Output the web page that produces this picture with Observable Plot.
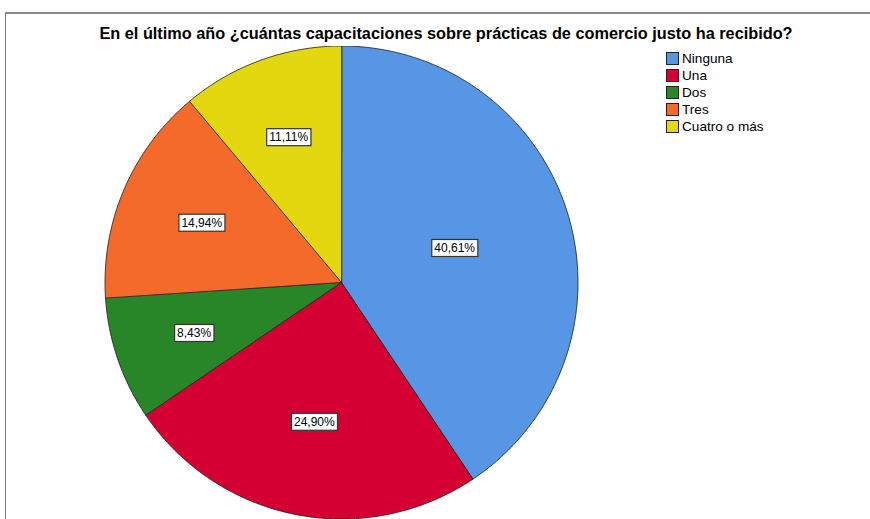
<!DOCTYPE html>
<html>
<head>
<meta charset="utf-8">
<script src="https://cdn.jsdelivr.net/npm/d3@7"></script>
<script src="https://cdn.jsdelivr.net/npm/@observablehq/plot@0.6"></script>
<style>
  html, body { margin: 0; padding: 0; background: #fff; overflow: hidden; }
  #wrap { position: relative; width: 870px; height: 519px; overflow: hidden; font-family: "Liberation Sans", Arial, sans-serif; }
  #frame { position: absolute; left: 5px; top: 12px; width: 900px; height: 600px; border-left: 1px solid #7a7a7a; border-top: 2px solid #8a8a8a; box-sizing: border-box; }
  #title { position: relative; height: 46px; box-sizing: border-box; padding-top: 24px; padding-left: 22px; width: 870px; text-align: center; font-weight: bold; font-size: 16.3px; line-height: 19px; color: #000; white-space: nowrap; }
  #chart svg { display: block; }
  #legend { position: absolute; left: 666px; top: 50px; font-size: 13.6px; color: #000; }
  #legend .row { display: flex; align-items: center; height: 17px; }
  #legend .sw { width: 11px; height: 11px; border: 1px solid #222; margin-right: 3px; box-sizing: content-box; }
</style>
</head>
<body>
<div id="wrap">
  <div id="frame"></div>
  <div id="title">En el último año ¿cuántas capacitaciones sobre prácticas de comercio justo ha recibido?</div>
  <div id="chart"></div>
  <div id="legend"></div>
</div>
<script>
const categories = ["Ninguna", "Una", "Dos", "Tres", "Cuatro o más"];
const percents = [40.61, 24.90, 8.43, 14.94, 11.11];
const labels = ["40,61%", "24,90%", "8,43%", "14,94%", "11,11%"];
const colors = ["#5696E4", "#D50032", "#288629", "#F36A2B", "#E3D80F"];

// Build slice outlines (angles measured clockwise from 12 o'clock)
const total = d3.sum(percents);
const outline = [];
const centroids = [];
let acc = 0;
categories.forEach((cat, i) => {
  const a0 = acc / total * 2 * Math.PI;
  acc += percents[i];
  const a1 = acc / total * 2 * Math.PI;
  outline.push({cat, x: 0, y: 0});
  const n = Math.max(2, Math.ceil((a1 - a0) / (Math.PI / 360)));
  for (let k = 0; k <= n; k++) {
    const a = a0 + (a1 - a0) * k / n;
    outline.push({cat, x: Math.sin(a), y: Math.cos(a)});
  }
  const half = (a1 - a0) / 2;
  const mid = a0 + half;
  const rc = (2 / 3) * Math.sin(half) / half; // area centroid of sector
  centroids.push({cat, label: labels[i], x: rc * Math.sin(mid), y: rc * Math.cos(mid)});
});

const cx = 341, cy = 236, r = 236.5;
const plot = Plot.plot({
  width: 870,
  height: 473,
  margin: 0,
  x: {domain: [-1, 1], range: [cx - r, cx + r], axis: null},
  y: {domain: [-1, 1], range: [cy + r, cy - r], axis: null},
  color: {domain: categories, range: colors},
  marks: [
    Plot.line(outline, {x: "x", y: "y", z: "cat", fill: "cat", stroke: "#1a1a1a", strokeWidth: 0.8, curve: "linear-closed"}),
    Plot.text(centroids, {x: "x", y: "y", text: "label", fill: "#000", fontSize: 12, fontFamily: "Liberation Sans, Arial, sans-serif"})
  ]
});
document.getElementById("chart").appendChild(plot);

// White boxes behind the labels
plot.querySelectorAll('g[aria-label="text"] text').forEach(t => {
  const b = t.getBBox();
  const rect = document.createElementNS("http://www.w3.org/2000/svg", "rect");
  rect.setAttribute("x", b.x - 2.5);
  rect.setAttribute("y", b.y - 1.5);
  rect.setAttribute("width", b.width + 5);
  rect.setAttribute("height", b.height + 3);
  rect.setAttribute("fill", "#fff");
  rect.setAttribute("stroke", "#333");
  rect.setAttribute("stroke-width", "1.2");
  if (t.getAttribute("transform")) rect.setAttribute("transform", t.getAttribute("transform"));
  t.parentNode.insertBefore(rect, t);
});

// Legend
const leg = document.getElementById("legend");
categories.forEach((c, i) => {
  const row = document.createElement("div");
  row.className = "row";
  const sw = document.createElement("div");
  sw.className = "sw";
  sw.style.background = colors[i];
  const lab = document.createElement("span");
  lab.textContent = c;
  row.appendChild(sw);
  row.appendChild(lab);
  leg.appendChild(row);
});
</script>
</body>
</html>
